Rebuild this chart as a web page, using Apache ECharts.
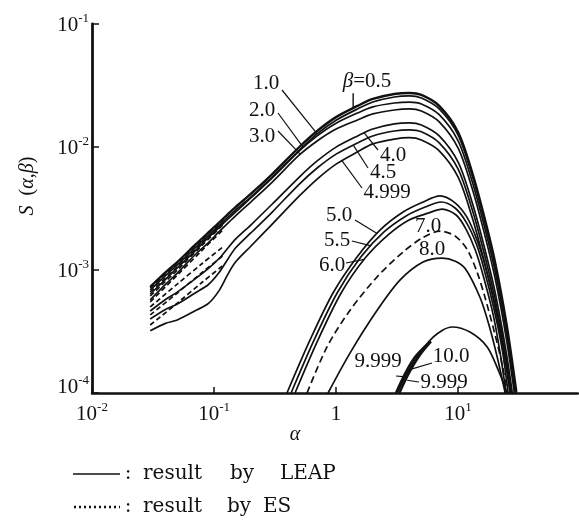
<!DOCTYPE html>
<html>
<head>
<meta charset="utf-8">
<script src="https://cdn.jsdelivr.net/npm/echarts@6/dist/echarts.min.js"></script>
<style>
  html, body { margin: 0; padding: 0; background: #fff; }
  #chart { width: 579px; height: 520px; }
</style>
</head>
<body>
<div id="chart"></div>
<script>
// ---- S(α,β) values ----
// common α grid for the β < 5 family (LEAP)
const alphaLow = [0.03, 0.04, 0.05, 0.07, 0.09, 0.11, 0.13, 0.15, 0.2, 0.3, 0.5, 0.7, 1, 1.5, 2, 3, 4, 5, 7, 10, 13, 16, 20, 25, 30];
const sB05   = [7.28e-4, 9.55e-4, 1.16e-3, 1.60e-3, 2.02e-3, 2.43e-3, 2.85e-3, 3.25e-3, 4.15e-3, 6.03e-3, 1.00e-2, 1.35e-2, 1.75e-2, 2.16e-2, 2.46e-2, 2.70e-2, 2.75e-2, 2.65e-2, 2.16e-2, 1.32e-2, 6.26e-3, 2.96e-3, 1.18e-3, 3.57e-4, 1.02e-4];
const sB10   = [6.88e-4, 9.02e-4, 1.10e-3, 1.51e-3, 1.91e-3, 2.30e-3, 2.69e-3, 3.07e-3, 3.92e-3, 5.70e-3, 9.45e-3, 1.28e-2, 1.65e-2, 2.04e-2, 2.32e-2, 2.55e-2, 2.60e-2, 2.50e-2, 2.04e-2, 1.25e-2, 5.92e-3, 2.80e-3, 1.12e-3, 3.37e-4, 9.6e-5];
const sB20   = [6.38e-4, 8.38e-4, 1.04e-3, 1.43e-3, 1.84e-3, 2.21e-3, 2.60e-3, 2.96e-3, 3.85e-3, 5.60e-3, 9.28e-3, 1.23e-2, 1.56e-2, 1.89e-2, 2.12e-2, 2.28e-2, 2.32e-2, 2.24e-2, 1.83e-2, 1.12e-2, 5.29e-3, 2.50e-3, 9.97e-4, 3.02e-4, 8.6e-5];
const sB30   = [5.71e-4, 7.63e-4, 9.44e-4, 1.33e-3, 1.67e-3, 2.05e-3, 2.41e-3, 2.75e-3, 3.57e-3, 5.19e-3, 8.61e-3, 1.12e-2, 1.40e-2, 1.66e-2, 1.86e-2, 2.00e-2, 2.04e-2, 1.96e-2, 1.60e-2, 9.78e-3, 4.64e-3, 2.19e-3, 8.74e-4, 2.65e-4, 7.6e-5];
const sB40   = [4.64e-4, 5.76e-4, 6.61e-4, 8.46e-4, 1.03e-3, 1.24e-3, 1.51e-3, 1.78e-3, 2.32e-3, 3.44e-3, 5.70e-3, 7.70e-3, 9.98e-3, 1.23e-2, 1.40e-2, 1.54e-2, 1.57e-2, 1.51e-2, 1.23e-2, 7.52e-3, 3.57e-3, 1.69e-3, 6.73e-4, 2.03e-4, 5.8e-5];
const sB45   = [4.00e-4, 4.78e-4, 5.29e-4, 6.51e-4, 7.62e-4, 9.53e-4, 1.23e-3, 1.51e-3, 2.00e-3, 2.96e-3, 5.00e-3, 6.75e-3, 8.75e-3, 1.08e-2, 1.23e-2, 1.35e-2, 1.38e-2, 1.33e-2, 1.08e-2, 6.60e-3, 3.13e-3, 1.48e-3, 5.90e-4, 1.79e-4, 5.1e-5];
const sB4999 = [3.20e-4, 3.68e-4, 3.92e-4, 4.66e-4, 5.35e-4, 6.80e-4, 9.26e-4, 1.16e-3, 1.56e-3, 2.36e-3, 4.00e-3, 5.49e-3, 7.26e-3, 9.14e-3, 1.06e-2, 1.16e-2, 1.19e-2, 1.14e-2, 9.31e-3, 5.69e-3, 2.70e-3, 1.28e-3, 5.09e-4, 1.54e-4, 4.4e-5];

// ES results at small α
const alphaES  = [0.03, 0.05, 0.08, 0.12];
const esB05    = [7.15e-4, 1.14e-3, 1.78e-3, 2.59e-3];
const esB10    = [6.63e-4, 1.06e-3, 1.68e-3, 2.45e-3];
const esB20    = [6.15e-4, 9.99e-4, 1.59e-3, 2.36e-3];
const esB30    = [5.50e-4, 9.09e-4, 1.45e-3, 2.15e-3];
const esB40    = [5.01e-4, 7.69e-4, 1.13e-3, 1.56e-3];
const esB45    = [4.31e-4, 6.50e-4, 9.57e-4, 1.32e-3];
const esB4999  = [3.57e-4, 5.38e-4, 7.95e-4, 1.10e-3];

// β = 5 ... 8
const aB50 = [0.396, 0.612, 0.944, 1.49, 2.29, 3.54, 5.16, 7.11, 9.44, 11.9, 14.3, 16.6, 20.1, 23.4, 26.7];
const sB50 = [1.0e-4, 2.70e-4, 6.5e-4, 1.28e-3, 2.11e-3, 2.96e-3, 3.57e-3, 4.0e-3, 3.51e-3, 2.65e-3, 1.75e-3, 1.10e-3, 5.2e-4, 2.46e-4, 1.0e-4];
const aB55 = [0.428, 0.661, 1.02, 1.60, 2.47, 3.75, 5.37, 7.26, 9.44, 11.6, 14.1, 16.3, 19.7, 23.0, 25.7];
const sB55 = [1.0e-4, 2.70e-4, 6.5e-4, 1.28e-3, 2.04e-3, 2.75e-3, 3.25e-3, 3.57e-3, 3.19e-3, 2.46e-3, 1.63e-3, 1.02e-3, 4.8e-4, 2.24e-4, 1.0e-4];
const aB60 = [0.461, 0.711, 1.10, 1.73, 2.67, 3.96, 5.68, 7.39, 9.63, 11.6, 13.8, 16.0, 19.4, 22.1, 24.7];
const sB60 = [1.0e-4, 2.70e-4, 6.5e-4, 1.25e-3, 1.93e-3, 2.55e-3, 2.90e-3, 3.13e-3, 2.80e-3, 2.15e-3, 1.46e-3, 9.1e-4, 4.3e-4, 2.11e-4, 1.0e-4];
const aB70 = [0.578, 0.843, 1.30, 2.17, 3.54, 5.07, 7.11, 9.44, 11.9, 14.3, 16.6, 20.1, 23.0, 25.2];
const sB70 = [1.0e-4, 2.37e-4, 4.7e-4, 8.8e-4, 1.40e-3, 1.82e-3, 2.07e-3, 1.89e-3, 1.46e-3, 9.6e-4, 6.0e-4, 2.96e-4, 1.69e-4, 1.0e-4];
const aB80 = [0.859, 1.30, 2.17, 3.35, 5.16, 7.39, 9.5, 11.5, 15.1, 17.9, 20.9, 24.3];
const sB80 = [1.0e-4, 2.11e-4, 4.7e-4, 8.3e-4, 1.16e-3, 1.25e-3, 1.18e-3, 1.02e-3, 6.0e-4, 3.57e-4, 1.96e-4, 1.0e-4];

// β = 10.0 and 9.999
const aB100 = [3.16, 4.28, 6.24, 8.93, 12.5, 17.3, 21.3, 25.2];
const sB100 = [1.0e-4, 1.75e-4, 2.85e-4, 3.44e-4, 3.13e-4, 2.37e-4, 1.54e-4, 1.0e-4];
const aB9999a = [3.10, 3.70, 4.44, 5.68];
const sB9999a = [1.0e-4, 1.45e-4, 1.96e-4, 2.53e-4];
const aB9999b = [3.30, 3.95, 4.80, 6.00];
const sB9999b = [1.0e-4, 1.45e-4, 2.0e-4, 2.62e-4];

// axis range in decades (x runs a little short of 10^2, as drawn)
const xDecades = [-2, -1, 0, 1, 2];
const xEnd = 96;
const yDecades = [-4, -3, -2, -1];

// curve labels: text, text centre (px), leader start (px), leader end on curve [α, S]
const curveNotes = [
  ['1.0',   [266, 83],  [282, 90],  [0.7, 1.28e-2]],
  ['2.0',   [262, 110], [278, 113], [0.54, 9.9e-3]],
  ['3.0',   [262, 136], [278, 131], [0.51, 8.7e-3]],
  ['4.0',   [393, 155], [378, 150], [1.70, 1.30e-2]],
  ['4.5',   [383, 172], [368, 168], [1.38, 1.04e-2]],
  ['4.999', [387, 192], [362, 188], [1.12, 7.7e-3]],
  ['5.0',   [339, 215], [355, 220], [2.17, 1.98e-3]],
  ['5.5',   [337, 240], [352, 241], [1.94, 1.57e-3]],
  ['6.0',   [332, 265], [346, 263], [1.70, 1.22e-3]],
  ['7.0',   [428, 226], null, null],
  ['8.0',   [432, 249], null, null],
  ['9.999', [378, 361], [396, 376], [3.54, 1.36e-4]],
  ['10.0',  [451, 356], [432, 363], [4.0, 1.55e-4]],
  ['9.999', [444, 382], [419, 382], [3.82, 1.27e-4]]
];
const betaNoteAnchor = [1.38, 2.07e-2];

// ---- drawing ----
const INK = '#111';
const SERIF = '"Liberation Serif", "Times New Roman", serif';
const pairs = (a, s) => a.map((v, i) => [v, s[i]]);

const curves = [
  { name: 'β=0.5 LEAP',   a: alphaLow, s: sB05,   w: 2.4 },
  { name: 'β=1.0 LEAP',   a: alphaLow, s: sB10 },
  { name: 'β=2.0 LEAP',   a: alphaLow, s: sB20 },
  { name: 'β=3.0 LEAP',   a: alphaLow, s: sB30 },
  { name: 'β=4.0 LEAP',   a: alphaLow, s: sB40 },
  { name: 'β=4.5 LEAP',   a: alphaLow, s: sB45 },
  { name: 'β=4.999 LEAP', a: alphaLow, s: sB4999 },
  { name: 'β=0.5 ES',   a: alphaES, s: esB05,   dash: [5, 3] },
  { name: 'β=1.0 ES',   a: alphaES, s: esB10,   dash: [5, 3] },
  { name: 'β=2.0 ES',   a: alphaES, s: esB20,   dash: [5, 3] },
  { name: 'β=3.0 ES',   a: alphaES, s: esB30,   dash: [5, 3] },
  { name: 'β=4.0 ES',   a: alphaES, s: esB40,   dash: [5, 3] },
  { name: 'β=4.5 ES',   a: alphaES, s: esB45,   dash: [5, 3] },
  { name: 'β=4.999 ES', a: alphaES, s: esB4999, dash: [5, 3] },
  { name: 'β=5.0',  a: aB50, s: sB50 },
  { name: 'β=5.5',  a: aB55, s: sB55 },
  { name: 'β=6.0',  a: aB60, s: sB60 },
  { name: 'β=7.0',  a: aB70, s: sB70, dash: [7, 4] },
  { name: 'β=8.0',  a: aB80, s: sB80 },
  { name: 'β=10.0', a: aB100, s: sB100 },
  { name: 'β=9.999 a', a: aB9999a, s: sB9999a, w: 2.6 },
  { name: 'β=9.999 b', a: aB9999b, s: sB9999b, w: 2.4 }
];

const series = curves.map(c => ({
  type: 'line',
  name: c.name,
  data: pairs(c.a, c.s),
  symbol: 'none',
  smooth: 0.3,
  clip: true,
  silent: true,
  lineStyle: { color: INK, width: c.w || 1.7, type: c.dash || 'solid' }
}));

const decadeLabel = (v, isY) => {
  const e = Math.round(Math.log10(v));
  if (e === 0) return '{b|1}';
  if (e >= 2) return '';
  const sup = '{s|' + (e < 0 ? '-' + (-e) : e) + '}';
  // the lowest y label sits just above its tick
  if (isY && e === yDecades[0]) return '{b|10}' + sup + '\n{g| }';
  return '{b|10}' + sup;
};
const richDecade = {
  b: { fontFamily: SERIF, fontSize: 21, color: INK, lineHeight: 24, verticalAlign: 'bottom' },
  s: { fontFamily: SERIF, fontSize: 13, color: INK, lineHeight: 14, verticalAlign: 'top' },
  g: { fontSize: 10, lineHeight: 14 }
};

const chart = echarts.init(document.getElementById('chart'), null, { renderer: 'canvas' });
chart.setOption({
  animation: false,
  backgroundColor: '#fff',
  grid: { left: 92, right: 1, top: 24, bottom: 127, containLabel: false },
  xAxis: {
    type: 'log', logBase: 10,
    min: Math.pow(10, xDecades[0]), max: xEnd,
    axisLine: { lineStyle: { color: INK, width: 2.5 } },
    axisTick: { inside: true, length: 6, lineStyle: { color: INK, width: 1.5 } },
    splitLine: { show: false },
    minorTick: { show: false },
    axisLabel: { margin: 8, formatter: v => decadeLabel(v, false), rich: richDecade, showMaxLabel: false }
  },
  yAxis: {
    type: 'log', logBase: 10,
    min: Math.pow(10, yDecades[0]), max: Math.pow(10, yDecades[yDecades.length - 1]),
    axisLine: { lineStyle: { color: INK, width: 2.8 } },
    axisTick: { inside: true, length: 7, lineStyle: { color: INK, width: 1.5 } },
    splitLine: { show: false },
    minorTick: { show: false },
    axisLabel: { margin: 3, formatter: v => decadeLabel(v, true), rich: richDecade }
  },
  series: series
});

// annotations (titles, curve labels with leaders, key)
const toPx = p => chart.convertToPixel({ xAxisIndex: 0, yAxisIndex: 0 }, p);
const graphics = [];
const label = (txt, x, y, extra) => graphics.push({
  type: 'text', x: x, y: y, silent: true,
  style: Object.assign({ text: txt, fill: INK, font: '21px ' + SERIF, align: 'center', verticalAlign: 'middle' }, extra || {})
});
const segment = (x1, y1, x2, y2, w, dash) => graphics.push({
  type: 'line', silent: true,
  shape: { x1: x1, y1: y1, x2: x2, y2: y2 },
  style: { stroke: INK, lineWidth: w || 1.2, lineDash: dash || null }
});

curveNotes.forEach(([txt, pos, from, at]) => {
  label(txt, pos[0], pos[1]);
  if (from && at) {
    const p = toPx(at);
    segment(from[0], from[1], p[0], p[1]);
  }
});

// β=0.5 tag with its short vertical tick
const bp = toPx(betaNoteAnchor);
segment(bp[0], bp[1] - 15, bp[0], bp[1], 1.4);
graphics.push({
  type: 'text', x: 367, y: 81, silent: true,
  style: {
    text: '{i|β}{n|=0.5}', align: 'center', verticalAlign: 'middle',
    rich: {
      i: { font: 'italic 21px ' + SERIF, fill: INK },
      n: { font: '21px ' + SERIF, fill: INK }
    }
  }
});

// axis titles
graphics.push({
  type: 'text', x: 295, y: 435, silent: true,
  style: { text: 'α', fill: INK, font: 'italic 20px ' + SERIF, align: 'center', verticalAlign: 'middle' }
});
graphics.push({
  type: 'text', x: 28, y: 186, rotation: Math.PI / 2, silent: true,
  style: {
    text: '{i|S}  ({i|α},{i|β})', align: 'center', verticalAlign: 'middle',
    rich: { i: { font: 'italic 20px ' + SERIF, fill: INK } },
    font: '20px ' + SERIF, fill: INK
  }
});

// key
const KEYFONT = '20px "DejaVu Serif", serif';
segment(73, 474, 120, 474, 1.6);
segment(74, 507, 120, 507, 2.4, [2, 3]);
[[474, 'LEAP', 280, 230], [507, 'ES', 263, 227]].forEach(([y, who, xWho, xBy]) => {
  label(':', 128, y, { font: KEYFONT, align: 'center' });
  label('result', 143, y, { font: KEYFONT, align: 'left' });
  label('by', xBy, y, { font: KEYFONT, align: 'left' });
  label(who, xWho, y, { font: KEYFONT, align: 'left' });
});

chart.setOption({ graphic: graphics });
</script>
</body>
</html>
